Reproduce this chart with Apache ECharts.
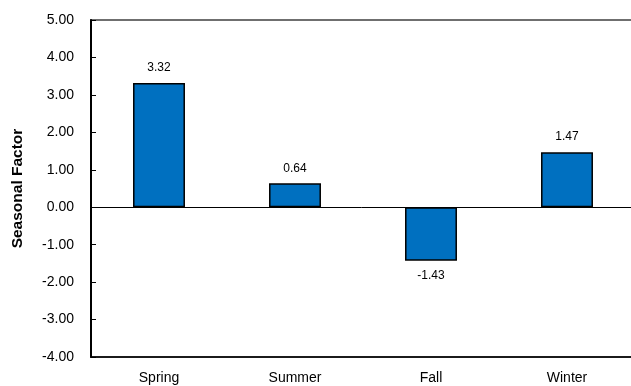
<!DOCTYPE html>
<html>
<head>
<meta charset="utf-8">
<script src="https://cdn.jsdelivr.net/npm/echarts@6/dist/echarts.min.js"></script>
<style>
  html, body { margin: 0; padding: 0; background: #fff; }
  #chart { width: 631px; height: 386px; }
</style>
</head>
<body>
<div id="chart"></div>
<script>
// Seasonal factors by season
const seasons = ['Spring', 'Summer', 'Fall', 'Winter'];
const seasonalFactor = [3.32, 0.64, -1.43, 1.47];
const yMin = -4;
const yMax = 5;
const yStep = 1;

const font = '"Liberation Sans", Arial, sans-serif';
const chart = echarts.init(document.getElementById('chart'), null, { renderer: 'canvas' });

chart.setOption({
  animation: false,
  backgroundColor: '#ffffff',
  grid: {
    left: 91, right: -4, top: 20, bottom: 29,
    outerBoundsMode: 'none',
    containLabel: false,
    show: true,
    borderColor: '#404040',
    borderWidth: 1.5,
    backgroundColor: 'transparent'
  },
  xAxis: [
    {
      // category labels along the bottom edge
      type: 'category',
      data: seasons,
      position: 'bottom',
      axisLine: { show: true, onZero: false, lineStyle: { color: '#000', width: 1.5 } },
      axisTick: { show: false },
      axisLabel: { color: '#000', fontFamily: font, fontSize: 14, margin: 14 }
    },
    {
      // baseline through zero
      type: 'category',
      data: seasons,
      position: 'bottom',
      axisLine: { show: true, onZero: true, lineStyle: { color: '#000', width: 1 } },
      axisTick: { show: false },
      axisLabel: { show: false }
    }
  ],
  yAxis: {
    type: 'value',
    min: yMin,
    max: yMax,
    interval: yStep,
    name: 'Seasonal Factor',
    nameLocation: 'middle',
    nameGap: 65,
    nameTextStyle: { color: '#000', fontFamily: font, fontSize: 15.5, fontWeight: 'bold' },
    axisLine: { show: true, lineStyle: { color: '#000', width: 2 } },
    axisTick: { show: true, inside: true, length: 5, lineStyle: { color: '#000', width: 1 } },
    axisLabel: {
      color: '#000', fontFamily: font, fontSize: 14, margin: 17,
      formatter: v => v.toFixed(2)
    },
    splitLine: { show: false }
  },
  series: [{
    type: 'bar',
    data: seasonalFactor,
    barWidth: '38.2%',
    itemStyle: { color: '#0070C0', borderColor: '#000', borderWidth: 1.5 },
    label: {
      show: true,
      position: 'outside',
      distance: 9,
      color: '#000',
      fontFamily: font,
      fontSize: 12,
      formatter: p => p.value.toFixed(2)
    }
  }]
});
</script>
</body>
</html>
